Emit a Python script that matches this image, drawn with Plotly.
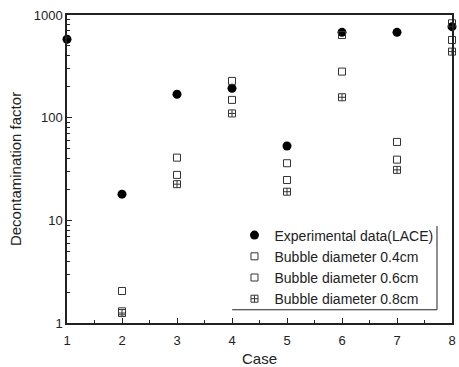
import plotly.graph_objects as go

cases_exp = [1, 2, 3, 4, 5, 6, 7, 8]
exp_lace = [580, 18, 169, 193, 53, 678, 678, 770]

cases_sim = [2, 3, 4, 5, 6, 7, 8]
bubble_04 = [2.05, 40.8, 228, 36, 638, 58, 830]
bubble_06 = [1.3, 27.7, 149, 24.7, 281, 39, 571]
bubble_08 = [1.25, 22.5, 110, 19, 158, 31, 440]

x_ticks = [1, 2, 3, 4, 5, 6, 7, 8]
y_ticks = [1, 10, 100, 1000]
y_ticktext = ["1", "10", "100", "1000"]

FONT = "Liberation Sans, Arial, sans-serif"

fig = go.Figure()
fig.add_trace(go.Scatter(x=cases_exp, y=exp_lace, mode="markers", name="Experimental data(LACE)",
                         marker=dict(symbol="circle", size=9, color="black"), cliponaxis=False))
fig.add_trace(go.Scatter(x=cases_sim, y=bubble_04, mode="markers", name="Bubble diameter 0.4cm",
                         marker=dict(symbol="square-open", size=7, color="#333",
                                     line=dict(width=1, color="#333")), cliponaxis=False))
fig.add_trace(go.Scatter(x=cases_sim, y=bubble_06, mode="markers", name="Bubble diameter 0.6cm",
                         marker=dict(symbol="square-open", size=7, color="#333",
                                     line=dict(width=1, color="#333")), cliponaxis=False))
fig.add_trace(go.Scatter(x=cases_sim, y=bubble_08, mode="markers", name="Bubble diameter 0.8cm",
                         marker=dict(symbol="square-cross-open", size=7, color="#333",
                                     line=dict(width=1, color="#333")), cliponaxis=False))

fig.update_layout(
    width=459, height=367,
    margin=dict(l=67, r=7, t=15, b=44),
    paper_bgcolor="white", plot_bgcolor="white",
    font=dict(family=FONT, size=13, color="#222"),
    showlegend=True,
    legend=dict(x=0.435, y=0.336, xanchor="left", yanchor="top",
                bgcolor="rgba(255,255,255,0)", borderwidth=0,
                font=dict(family=FONT, size=14, color="#222"),
                itemsizing="trace", tracegroupgap=0),
    xaxis=dict(range=[1, 8], tickvals=x_ticks, ticks="inside", ticklen=5, tickwidth=1,
               tickcolor="#222", showline=True, linecolor="#222", linewidth=1.5, mirror=True,
               showgrid=False, zeroline=False, ticklabelstandoff=5, automargin=False,
               minor=dict(ticks="inside", ticklen=3, dtick=0.5, tickcolor="#222"),
               title=dict(text="Case", font=dict(family=FONT, size=15), standoff=14),
               tickfont=dict(family=FONT, size=13)),
    yaxis=dict(type="log", range=[0, 3], tickvals=y_ticks, ticktext=y_ticktext,
               ticks="inside", ticklen=5, tickwidth=1, tickcolor="#222",
               showline=True, linecolor="#222", linewidth=1.5, mirror=True,
               showgrid=False, zeroline=False, automargin=False,
               minor=dict(ticks="inside", ticklen=3, dtick="D1", tickcolor="#222"),
               title=dict(text="Decontamination factor", font=dict(family=FONT, size=15), standoff=8),
               tickfont=dict(family=FONT, size=13)),
)

# legend frame lines (right and bottom edges)
fig.add_shape(type="line", xref="paper", yref="paper", x0=0.961, x1=0.961, y0=0.315, y1=0.043,
              line=dict(color="#222", width=1))
fig.add_shape(type="line", xref="paper", yref="paper", x0=0.429, x1=0.961, y0=0.043, y1=0.043,
              line=dict(color="#222", width=1))

fig.write_html("out.html")
